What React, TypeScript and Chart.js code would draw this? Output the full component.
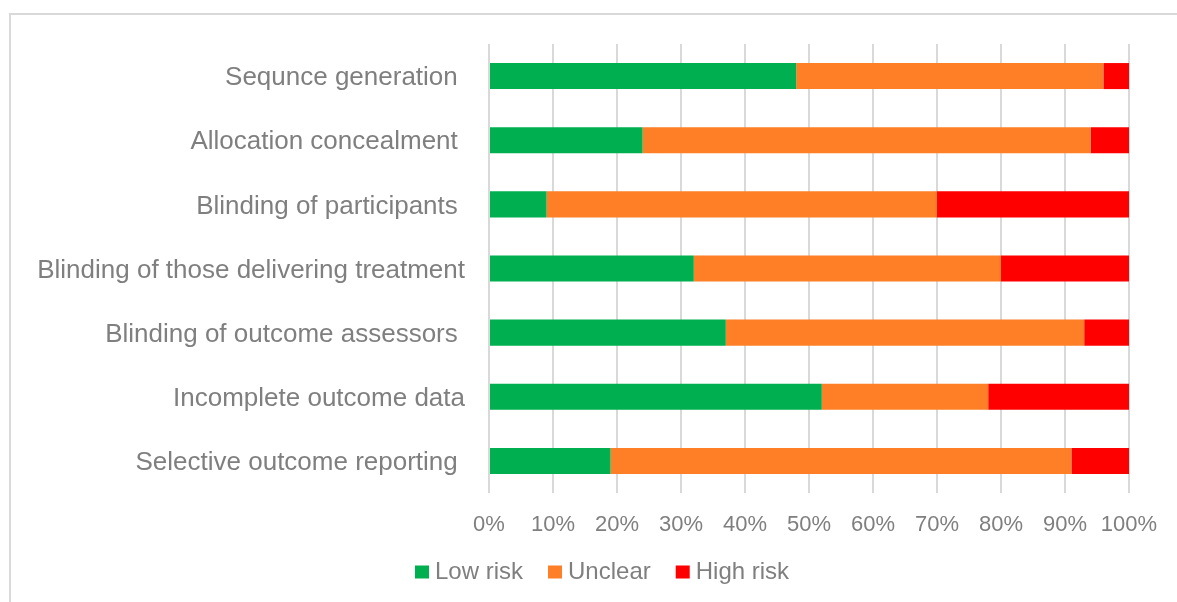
import React, { useEffect, useRef } from "react";
import { Chart, registerables } from "chart.js";

Chart.register(...registerables);

const categories = [
  "Sequnce generation ",
  "Allocation concealment ",
  "Blinding of participants ",
  "Blinding of those delivering treatment",
  "Blinding of outcome assessors ",
  "Incomplete outcome data",
  "Selective outcome reporting ",
];
const lowRisk = [48, 24, 9, 32, 37, 52, 19];
const unclear = [48, 70, 61, 48, 56, 26, 72];
const highRisk = [4, 6, 30, 20, 7, 22, 9];
const seriesNames = ["Low risk", "Unclear", "High risk"];
const seriesColors = ["#00B050", "#FF7F27", "#FF0000"];

const TEXT = "#7F7F7F";
const FONT = "'Liberation Sans', Arial, sans-serif";
const LEGEND_START = 421;
const LEGEND_TEXT_CENTER = 572;
const LEGEND_FONT = 24;

const legendShift = {
  id: "legendShift",
  afterLayout(chart: any) {
    const lg = chart.legend;
    if (!lg || !lg.lineWidths) return;
    const pad = lg.options.labels.padding;
    const start = (lg.left + pad + lg.right - lg.lineWidths[0]) / 2;
    const d = LEGEND_START - start;
    lg.left += d;
    lg.right += d;
    const h = lg.bottom - lg.top;
    lg.top = LEGEND_TEXT_CENTER - LEGEND_FONT / 2 - pad;
    lg.bottom = lg.top + h;
  },
};

export default function App() {
  const ref = useRef<HTMLCanvasElement | null>(null);
  useEffect(() => {
    if (!ref.current) return;
    const chart = new Chart(ref.current, {
      type: "bar",
      data: {
        labels: categories,
        datasets: [lowRisk, unclear, highRisk].map((d, i) => ({
          label: seriesNames[i],
          data: d,
          backgroundColor: seriesColors[i],
          borderWidth: 0,
          barPercentage: 0.406,
          categoryPercentage: 1,
        })),
      },
      options: {
        indexAxis: "y",
        animation: false,
        responsive: false,
        devicePixelRatio: 1,
        layout: { padding: { left: 20, right: 48, top: 44, bottom: 0 } },
        plugins: {
          tooltip: { enabled: false },
          legend: {
            position: "bottom",
            labels: {
              boxWidth: 2,
              boxHeight: 1,
              padding: 31,
              color: TEXT,
              font: { family: FONT, size: LEGEND_FONT },
              generateLabels: (chart: any) =>
                chart.data.datasets.map((ds: any, i: number) => ({
                  text: ds.label,
                  fillStyle: ds.backgroundColor,
                  strokeStyle: ds.backgroundColor,
                  lineWidth: 12,
                  lineJoin: "miter",
                  lineCap: "butt",
                  lineDash: [],
                  lineDashOffset: 0,
                  hidden: false,
                  datasetIndex: i,
                  fontColor: TEXT,
                })),
            },
          },
        },
        scales: {
          x: {
            stacked: true,
            min: 0,
            max: 100,
            afterFit: (s: any) => {
              s.height = 44;
            },
            ticks: {
              stepSize: 10,
              padding: 19,
              color: TEXT,
              font: { family: FONT, size: 22 },
              callback: (v: any) => v + "%",
            },
            grid: { color: "#D9D9D9", lineWidth: 2, drawTicks: false },
            border: { display: false },
          },
          y: {
            stacked: true,
            afterFit: (s: any) => {
              s.width = 489 - 20;
            },
            ticks: {
              padding: 24,
              labelOffset: 2,
              color: TEXT,
              font: { family: FONT, size: 26 },
            },
            grid: { display: false, drawTicks: false },
            border: { display: false },
          },
        },
      },
      plugins: [legendShift],
    });
    return () => chart.destroy();
  }, []);

  return (
    <div style={{ position: "fixed", left: 0, top: 0, width: 1177, height: 602, background: "#fff", overflow: "hidden" }}>
      <div
        style={{
          position: "absolute",
          left: 9,
          top: 13,
          width: 1300,
          height: 700,
          border: "2px solid #D9D9D9",
          boxSizing: "border-box",
        }}
      />
      <canvas ref={ref} width={1177} height={602} style={{ position: "absolute", left: 0, top: 0, width: 1177, height: 602 }} />
    </div>
  );
}
